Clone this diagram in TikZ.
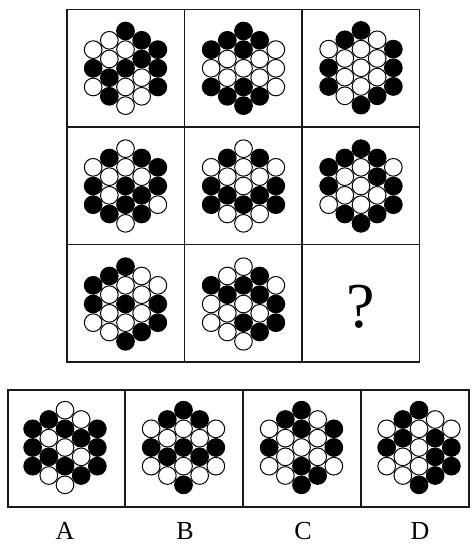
\documentclass[tikz,border=0pt]{standalone}
\usepackage{fontspec}
\setmainfont{Liberation Serif}
\tikzset{
  gridline/.style={line width=1.5pt, draw=black!90},
  wc/.style={draw=black, fill=white, line width=1pt},
  bc/.style={draw=black, fill=black, line width=1pt},
  lbl/.style={inner sep=0pt, font=\fontsize{26}{28}\selectfont},
  qmark/.style={inner sep=0pt, font=\fontsize{64}{66}\selectfont},
}
\def\hxdx{{-2,-2,-2,-1,-1,-1,-1,0,0,0,0,0,1,1,1,1,2,2,2}}
\def\hxdy{{-1,0,1,-1.5,-0.5,0.5,1.5,-2,-1,0,1,2,-1.5,-0.5,0.5,1.5,-1,0,1}}
\newcommand\hexpat[3]{%
  \foreach \v [count=\i from 0] in {#3} {
    \pgfmathsetmacro\ddx{\hxdx[\i]*16.166}
    \pgfmathsetmacro\ddy{\hxdy[\i]*18.667}
    \ifnum\v=1
      \draw[wc] ({#1+\ddx},{#2+\ddy}) circle (8.85pt);
    \else
      \draw[bc] ({#1+\ddx},{#2+\ddy}) circle (8.85pt);
    \fi
  }}
\begin{document}
\begin{tikzpicture}[x=1pt,y=-1pt]
\useasboundingbox (0,0) rectangle (476,546);
% 3x3 grid
\draw[gridline] (67,9.5) rectangle (419.5,362);
\draw[gridline] (184.5,9.5) -- (184.5,362);
\draw[gridline] (302,9.5) -- (302,362);
\draw[gridline] (67,127) -- (419.5,127);
\draw[gridline] (67,244.5) -- (419.5,244.5);
% row 1
\hexpat{125.5}{68.3}{1,0,1, 1,1,0,0, 0,1,0,1,1, 0,0,1,1, 0,0,0}
\hexpat{243.5}{68.3}{0,1,0, 0,1,1,0, 0,0,1,0,0, 0,1,1,0, 1,1,1}
\hexpat{361}{67.8}{1,0,0, 0,1,1,1, 0,1,1,1,0, 1,1,1,0, 0,0,0}
% row 2
\hexpat{125.5}{186}{1,0,0, 0,1,1,0, 1,1,0,0,1, 0,1,0,0, 0,0,1}
\hexpat{243.5}{186}{1,0,0, 0,1,0,1, 1,1,1,0,1, 0,1,0,1, 1,0,0}
\hexpat{361}{186}{0,0,1, 0,1,1,0, 0,1,1,1,0, 0,0,1,0, 1,0,0}
% row 3
\hexpat{125.5}{304}{0,0,1, 0,1,1,1, 0,1,0,1,0, 1,1,1,0, 1,0,0}
\hexpat{243.5}{304}{0,1,1, 1,0,1,1, 1,0,1,0,1, 0,0,1,0, 1,0,0}
\node[qmark] (q) at (360.5,307) {?};
% options
\draw[gridline] (8,390) rectangle (469,507);
\draw[gridline] (125,390) -- (125,507);
\draw[gridline] (243,390) -- (243,507);
\draw[gridline] (361,390) -- (361,507);
\hexpat{65}{447.5}{0,0,0, 0,1,0,1, 1,0,1,0,1, 1,0,1,0, 0,0,0}
\hexpat{183.5}{447.5}{1,0,1, 0,1,0,1, 0,1,0,1,0, 0,1,0,1, 1,0,1}
\hexpat{301.5}{447.5}{1,0,1, 0,1,1,1, 0,0,1,0,0, 1,1,1,0, 0,0,1}
\hexpat{419}{447.5}{1,0,1, 0,0,1,1, 0,1,1,1,0, 1,0,0,0, 1,0,0}
\node[lbl] (la) at (65,531) {A};
\node[lbl] (lb) at (185,531) {B};
\node[lbl] (lc) at (303,531) {C};
\node[lbl] (ld) at (420,531) {D};
\end{tikzpicture}
\end{document}
